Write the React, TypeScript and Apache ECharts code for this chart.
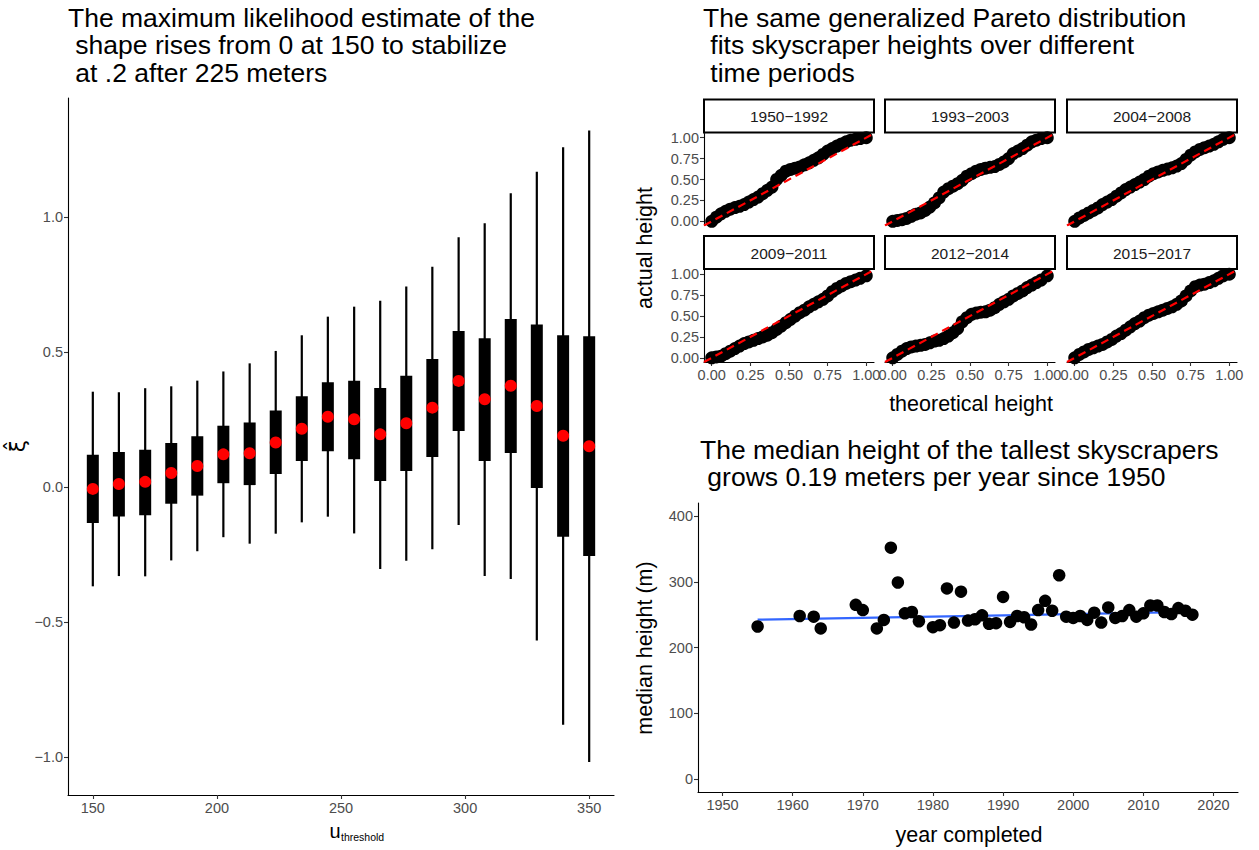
import React, { useEffect, useRef } from "react";
import * as echarts from "echarts";

const FONT = '"Liberation Sans", Arial, sans-serif';

// ---- Left panel: shape estimate by threshold ----
const thresholds = [150, 160.5, 171.1, 181.6, 192.1, 202.6, 213.2, 223.7, 234.2, 244.7, 255.3, 265.8, 276.3, 286.8, 297.4, 307.9, 318.4, 328.9, 339.5, 350];
const whiskerLow = [-0.368, -0.330, -0.331, -0.272, -0.238, -0.186, -0.210, -0.173, -0.131, -0.110, -0.172, -0.304, -0.273, -0.231, -0.141, -0.330, -0.341, -0.569, -0.881, -1.019];
const boxLow = [-0.133, -0.109, -0.105, -0.062, -0.032, 0.014, 0.007, 0.048, 0.096, 0.132, 0.103, 0.022, 0.059, 0.111, 0.207, 0.096, 0.126, -0.004, -0.184, -0.256];
const shapeEst = [-0.007, 0.011, 0.019, 0.052, 0.078, 0.121, 0.125, 0.165, 0.216, 0.260, 0.251, 0.195, 0.236, 0.294, 0.393, 0.325, 0.375, 0.300, 0.190, 0.151];
const boxHigh = [0.119, 0.130, 0.138, 0.163, 0.188, 0.227, 0.239, 0.283, 0.336, 0.388, 0.394, 0.367, 0.412, 0.474, 0.578, 0.551, 0.622, 0.602, 0.562, 0.558];
const whiskerHigh = [0.353, 0.351, 0.366, 0.373, 0.394, 0.428, 0.458, 0.504, 0.562, 0.631, 0.668, 0.690, 0.743, 0.816, 0.925, 0.977, 1.088, 1.168, 1.259, 1.321];
const leftXTicks = [150, 200, 250, 300, 350];
const leftYTicks = [-1, -0.5, 0, 0.5, 1];

// ---- Top right: QQ facets ----
const periods = ["1950−1992", "1993−2003", "2004−2008", "2009−2011", "2012−2014", "2015−2017"];
const theoreticalQ = [0.00, 0.03, 0.06, 0.09, 0.12, 0.15, 0.18, 0.21, 0.24, 0.27, 0.30, 0.33, 0.36, 0.39, 0.42, 0.45, 0.48, 0.51, 0.54, 0.57, 0.60, 0.63, 0.66, 0.69, 0.72, 0.75, 0.78, 0.81, 0.84, 0.87, 0.90, 0.93, 0.96, 1.00];
const actual1950 = [0.00, 0.05, 0.09, 0.12, 0.145, 0.165, 0.18, 0.20, 0.23, 0.26, 0.29, 0.33, 0.37, 0.41, 0.50, 0.55, 0.60, 0.62, 0.635, 0.65, 0.675, 0.70, 0.73, 0.76, 0.80, 0.84, 0.87, 0.90, 0.925, 0.95, 0.97, 0.98, 0.99, 1.00];
const actual1993 = [0.00, 0.01, 0.02, 0.035, 0.06, 0.085, 0.10, 0.13, 0.17, 0.22, 0.28, 0.35, 0.39, 0.42, 0.45, 0.49, 0.54, 0.57, 0.60, 0.62, 0.635, 0.645, 0.655, 0.68, 0.71, 0.75, 0.81, 0.84, 0.87, 0.91, 0.95, 0.97, 0.99, 1.00];
const actual2004 = [0.00, 0.04, 0.07, 0.10, 0.13, 0.16, 0.20, 0.23, 0.26, 0.30, 0.34, 0.38, 0.41, 0.44, 0.47, 0.50, 0.54, 0.57, 0.59, 0.61, 0.625, 0.64, 0.66, 0.69, 0.74, 0.79, 0.83, 0.86, 0.88, 0.90, 0.92, 0.95, 0.98, 1.00];
const actual2009 = [0.00, 0.01, 0.02, 0.05, 0.08, 0.11, 0.14, 0.17, 0.19, 0.21, 0.23, 0.25, 0.27, 0.30, 0.34, 0.38, 0.42, 0.46, 0.50, 0.54, 0.57, 0.61, 0.64, 0.67, 0.70, 0.74, 0.79, 0.83, 0.86, 0.89, 0.91, 0.93, 0.95, 0.98];
const actual2012 = [0.00, 0.04, 0.08, 0.11, 0.13, 0.14, 0.15, 0.16, 0.18, 0.20, 0.21, 0.23, 0.26, 0.30, 0.35, 0.43, 0.48, 0.52, 0.535, 0.545, 0.55, 0.57, 0.60, 0.64, 0.67, 0.70, 0.74, 0.77, 0.80, 0.84, 0.87, 0.90, 0.93, 0.98];
const actual2015 = [0.00, 0.04, 0.07, 0.10, 0.12, 0.14, 0.16, 0.19, 0.22, 0.26, 0.29, 0.33, 0.37, 0.41, 0.44, 0.48, 0.51, 0.53, 0.55, 0.57, 0.59, 0.61, 0.64, 0.68, 0.74, 0.80, 0.85, 0.87, 0.88, 0.90, 0.92, 0.95, 0.98, 1.00];
const actualByPeriod = [actual1950, actual1993, actual2004, actual2009, actual2012, actual2015];
const qqTicks = [0, 0.25, 0.5, 0.75, 1];
const refLine = [[-0.05, -0.05], [1.05, 1.05]];

// ---- Bottom right: median height by year ----
const years = [1955, 1961, 1963, 1964, 1969, 1970, 1972, 1973, 1974, 1975, 1976, 1977, 1978, 1980, 1981, 1982, 1983, 1984, 1985, 1986, 1987, 1988, 1989, 1990, 1991, 1992, 1993, 1994, 1995, 1996, 1997, 1998, 1999, 2000, 2001, 2002, 2003, 2004, 2005, 2006, 2007, 2008, 2009, 2010, 2011, 2012, 2013, 2014, 2015, 2016, 2017];
const medianHeights = [232, 248, 247, 229, 265, 257, 229, 242, 352, 299, 252, 254, 240, 231, 234, 290, 238, 285, 241, 243, 249, 236, 237, 277, 239, 248, 246, 235, 257, 271, 256, 310, 247, 245, 248, 242, 253, 238, 261, 245, 248, 257, 247, 252, 264, 264, 254, 251, 260, 256, 250];
const trendYears = [1955, 2017];
const trendHeights = [242.3, 254.1];
const yearTicks = [1950, 1960, 1970, 1980, 1990, 2000, 2010, 2020];
const heightTicks = [0, 100, 200, 300, 400];

const minus = (s: string) => s.replace("-", "−");

function axis(gridIndex: number, min: number, max: number, ticks: number[] | null, fmt: (v: number) => string, showLine: boolean) {
  return {
    type: "value",
    gridIndex,
    min,
    max,
    splitLine: { show: false },
    axisLine: { show: showLine, onZero: false, lineStyle: { color: "#000", width: 1.1 } },
    axisTick: ticks ? { show: true, customValues: ticks, length: 4, lineStyle: { color: "#333", width: 1.1 } } : { show: false },
    axisLabel: ticks ? { show: true, customValues: ticks, formatter: fmt, color: "#4d4d4d", fontSize: 14.5, fontFamily: FONT, margin: 5 } : { show: false },
  };
}

export default function App() {
  const ref = useRef<HTMLDivElement>(null);
  useEffect(() => {
    if (!ref.current) return;
    const chart = echarts.init(ref.current, null, { renderer: "svg" });

    const grids: any[] = [];
    const xAxes: any[] = [];
    const yAxes: any[] = [];
    const series: any[] = [];
    const graphics: any[] = [];

    // left grid
    grids.push({ left: 68, top: 98, width: 546, height: 697 });
    xAxes.push(axis(0, 140, 360, leftXTicks, (v) => String(v), true));
    yAxes.push(axis(0, -1.141, 1.441, leftYTicks, (v) => minus(v.toFixed(1)), true));
    series.push({
      type: "custom",
      xAxisIndex: 0,
      yAxisIndex: 0,
      data: thresholds.map((t, i) => [t, whiskerLow[i], boxLow[i], shapeEst[i], boxHigh[i], whiskerHigh[i]]),
      encode: { x: 0, y: [1, 5] },
      renderItem: (_p: any, api: any) => {
        const x = api.value(0);
        const wt = api.coord([x, api.value(5)]);
        const wb = api.coord([x, api.value(1)]);
        const bt = api.coord([x, api.value(4)]);
        const bb = api.coord([x, api.value(2)]);
        return {
          type: "group",
          children: [
            { type: "line", shape: { x1: wt[0], y1: wt[1], x2: wb[0], y2: wb[1] }, style: { stroke: "#000", lineWidth: 2.2 } },
            { type: "rect", shape: { x: bt[0] - 6, y: bt[1], width: 12, height: bb[1] - bt[1] }, style: { fill: "#000" } },
          ],
        };
      },
      z: 2,
    });
    series.push({
      type: "scatter",
      xAxisIndex: 0,
      yAxisIndex: 0,
      data: thresholds.map((t, i) => [t, shapeEst[i]]),
      symbolSize: 12,
      itemStyle: { color: "#ff0000", opacity: 1 },
      z: 3,
    });

    // facets
    const colLeft = [704, 885, 1067];
    const rowTop = [133.5, 270];
    const stripTop = [99.5, 236];
    const pw = 170;
    const ph = 92;
    periods.forEach((p, i) => {
      const r = Math.floor(i / 3);
      const c = i % 3;
      const gi = i + 1;
      grids.push({ left: colLeft[c], top: rowTop[r], width: pw, height: ph });
      xAxes.push(axis(gi, -0.05, 1.05, r === 1 ? qqTicks : null, (v) => v.toFixed(2), r === 1));
      yAxes.push(axis(gi, -0.05, 1.05, c === 0 ? qqTicks : null, (v) => v.toFixed(2), c === 0));
      series.push({
        type: "scatter",
        xAxisIndex: gi,
        yAxisIndex: gi,
        data: theoreticalQ.map((q, j) => [q, actualByPeriod[i][j]]),
        symbolSize: 13,
        itemStyle: { color: "#000", opacity: 1 },
        z: 2,
      });
      series.push({
        type: "line",
        xAxisIndex: gi,
        yAxisIndex: gi,
        data: refLine,
        showSymbol: false,
        lineStyle: { color: "#ff0000", width: 2.2, type: [8, 5] },
        z: 3,
      });
      graphics.push({
        type: "rect",
        shape: { x: colLeft[c], y: stripTop[r], width: pw, height: 33 },
        style: { fill: "#fff", stroke: "#000", lineWidth: 2 },
      });
      graphics.push({
        type: "text",
        x: colLeft[c] + pw / 2,
        y: stripTop[r] + 17,
        style: { text: p, fontSize: 15.5, fontFamily: FONT, fill: "#1a1a1a", align: "center", verticalAlign: "middle" },
      });
    });

    // bottom right
    grids.push({ left: 698, top: 503, width: 540, height: 289 });
    xAxes.push(axis(7, 1946.5, 2023.5, yearTicks, (v) => String(v), true));
    yAxes.push(axis(7, -20, 420, heightTicks, (v) => String(v), true));
    series.push({
      type: "scatter",
      xAxisIndex: 7,
      yAxisIndex: 7,
      data: years.map((y, i) => [y, medianHeights[i]]),
      symbolSize: 12.5,
      itemStyle: { color: "#000", opacity: 1 },
      z: 2,
    });
    series.push({
      type: "line",
      xAxisIndex: 7,
      yAxisIndex: 7,
      data: trendYears.map((y, i) => [y, trendHeights[i]]),
      showSymbol: false,
      lineStyle: { color: "#3366ff", width: 2.2 },
      z: 1,
    });

    // axis titles
    const titleStyle = (text: string, size = 21.5) => ({ text, fontSize: size, fontFamily: FONT, fill: "#000", align: "center", verticalAlign: "middle" });
    graphics.push({ type: "text", x: 17, y: 446, rotation: Math.PI / 2, style: { text: "ξ̂", fontSize: 22, fontFamily: '"DejaVu Sans", sans-serif', fill: "#000", align: "center", verticalAlign: "middle" } });
    graphics.push({ type: "text", x: 335, y: 831, style: titleStyle("u", 20) });
    graphics.push({ type: "text", x: 341, y: 837, style: { text: "threshold", fontSize: 10.5, fontFamily: FONT, fill: "#000", align: "left", verticalAlign: "middle" } });
    graphics.push({ type: "text", x: 645, y: 248, rotation: Math.PI / 2, style: titleStyle("actual height") });
    graphics.push({ type: "text", x: 971, y: 404, style: titleStyle("theoretical height") });
    graphics.push({ type: "text", x: 645, y: 648, rotation: Math.PI / 2, style: titleStyle("median height (m)") });
    graphics.push({ type: "text", x: 969, y: 835, style: titleStyle("year completed") });

    const tStyle = { fontSize: 26.5, lineHeight: 27.5, fontWeight: "normal", color: "#000", fontFamily: FONT };
    chart.setOption({
      animation: false,
      backgroundColor: "#fff",
      title: [
        { text: "The maximum likelihood estimate of the\n shape rises from 0 at 150 to stabilize\n at .2 after 225 meters", left: 68, top: 4, padding: 0, textStyle: tStyle },
        { text: "The same generalized Pareto distribution\n fits skyscraper heights over different\n time periods", left: 703, top: 4, padding: 0, textStyle: tStyle },
        { text: "The median height of the tallest skyscrapers\n grows 0.19 meters per year since 1950", left: 700, top: 436, padding: 0, textStyle: tStyle },
      ],
      grid: grids,
      xAxis: xAxes,
      yAxis: yAxes,
      series,
      graphic: graphics,
    });
    return () => chart.dispose();
  }, []);
  return <div ref={ref} style={{ position: "absolute", left: 0, top: 0, width: 1259, height: 850 }} />;
}
